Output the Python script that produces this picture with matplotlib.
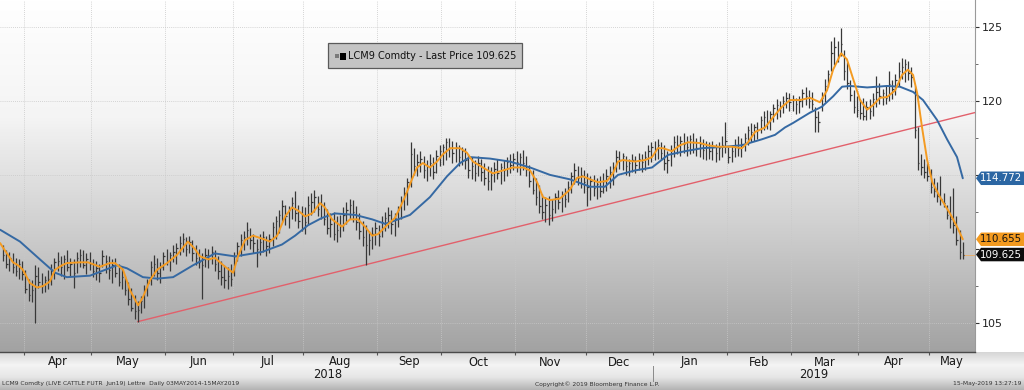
import numpy as np
import pandas as pd
import matplotlib
matplotlib.use("Agg")
import matplotlib.pyplot as plt
from matplotlib.colors import LinearSegmentedColormap
from matplotlib.patches import Polygon, Rectangle

# ---------------- data ----------------
dates = pd.bdate_range("2018-03-22", "2019-05-15")

high = [110.3,109.9,109.8,109.7,109.4,109.3,109.2,108.6,108.0,107.9,
        108.9,108.8,108.4,108.2,108.6,109.0,109.4,109.8,109.5,109.6,
        109.9,109.4,109.3,109.8,110.0,109.9,109.7,109.8,109.3,109.2,
        109.0,109.9,109.6,109.5,109.3,109.4,109.0,108.7,108.2,107.8,
        107.4,106.9,106.5,106.8,107.6,108.0,109.2,109.6,109.4,109.1,
        109.8,110.0,109.8,110.3,110.4,110.9,111.1,110.8,110.9,110.6,
        110.3,110.0,109.7,110.1,110.0,110.2,109.9,109.5,109.2,108.9,
        108.8,109.0,109.8,110.5,111.0,111.2,111.8,111.4,111.0,110.7,
        111.0,111.2,110.9,111.0,111.8,112.2,112.6,113.3,113.0,112.9,
        113.5,113.9,113.0,112.9,112.8,113.6,113.8,114.0,113.6,113.7,
        113.2,112.7,112.4,112.5,112.2,112.3,112.8,113.2,113.4,113.3,
        112.9,112.4,111.9,111.6,111.2,111.5,111.8,111.6,112.2,112.5,
        112.8,112.6,112.4,112.9,113.6,114.2,114.8,117.2,116.8,116.4,
        116.6,116.3,116.0,116.4,116.2,116.7,117.0,117.1,117.5,117.5,
        117.3,117.2,117.0,116.9,116.8,116.4,116.2,116.0,116.3,116.1,
        115.8,115.6,115.5,115.9,116.1,115.8,116.0,116.2,116.4,116.5,
        116.6,116.5,116.7,116.3,115.7,115.3,114.8,114.3,113.7,113.5,
        113.6,113.4,113.8,114.0,113.9,114.1,114.6,115.2,115.8,115.6,
        115.5,115.3,115.1,114.9,115.0,114.8,114.9,115.1,115.4,115.6,
        115.9,116.7,116.6,116.5,116.3,116.1,116.4,116.3,116.5,116.4,
        116.6,117.0,117.2,117.3,117.4,117.2,117.0,116.6,117.0,117.6,
        117.7,117.6,117.8,117.6,117.7,117.8,117.5,117.6,117.4,117.3,
        117.2,117.3,117.1,117.2,117.6,118.6,116.9,117.0,117.4,117.6,
        117.5,117.8,118.3,118.5,118.4,118.6,119.0,119.3,119.4,119.3,
        119.8,120.1,120.0,120.3,120.6,120.5,120.4,120.2,120.3,120.8,
        120.9,120.7,120.6,119.6,119.3,120.6,121.5,122.1,124.0,124.3,
        124.0,124.9,123.4,122.6,121.4,120.7,120.3,120.1,120.2,120.0,
        120.1,120.5,121.7,121.2,120.8,121.0,122.0,121.4,121.8,122.6,
        122.9,122.8,122.7,122.3,121.0,118.2,116.4,116.1,115.8,115.4,
        114.8,114.5,114.9,113.8,113.0,113.6,114.1,112.2,111.3,110.5]

low = [109.2,108.7,108.5,108.4,108.2,108.0,107.9,107.0,106.5,106.4,
       105.0,107.4,107.0,107.1,107.3,107.6,108.0,108.5,108.2,108.0,
       108.5,108.2,107.4,108.4,108.8,108.7,108.3,108.6,108.1,107.9,
       107.8,108.8,108.4,108.0,107.7,108.1,107.5,107.3,106.9,106.2,
       105.8,105.3,105.1,105.7,106.0,106.8,107.6,108.2,107.9,107.7,
       108.6,108.9,108.5,109.1,109.0,109.6,109.8,109.5,109.7,109.2,
       108.9,108.7,106.6,108.8,108.7,109.0,108.5,108.0,107.6,107.4,
       107.3,107.5,108.2,109.2,109.5,109.9,110.3,110.0,109.7,108.8,
       109.6,109.8,109.5,109.7,110.2,110.7,111.1,111.8,111.6,111.4,
       112.0,111.9,111.4,111.2,111.0,111.7,112.3,112.5,112.2,112.0,
       111.6,111.0,110.8,110.6,110.5,110.8,111.2,111.7,112.0,111.8,
       111.3,110.7,110.2,108.9,109.6,110.0,110.3,110.2,110.8,111.2,
       111.4,111.0,110.9,111.5,112.0,112.6,113.0,114.2,115.0,114.9,
       115.2,114.8,114.6,114.9,114.7,115.1,115.6,115.7,116.0,116.2,
       115.8,115.9,115.6,115.7,115.4,114.8,114.7,114.6,114.9,114.6,
       114.3,114.0,114.0,114.5,114.7,114.4,114.6,114.9,115.1,115.3,
       115.2,115.0,115.3,114.9,114.2,113.7,113.0,112.4,112.0,111.8,
       111.6,111.9,112.4,112.7,112.5,112.8,113.2,113.8,114.4,114.3,
       114.1,113.8,112.9,113.3,113.6,113.4,113.5,113.8,113.9,114.1,
       114.3,115.2,115.4,115.3,115.0,114.9,115.2,115.1,115.3,115.2,
       115.3,115.7,115.9,116.0,116.1,116.0,115.3,115.1,115.6,116.2,
       116.4,116.3,116.5,116.3,116.4,116.5,116.3,116.2,116.1,116.0,
       116.1,116.0,115.9,116.0,116.2,116.5,115.8,115.9,116.2,116.3,
       116.2,116.6,117.0,117.2,117.3,117.4,117.8,118.0,118.1,118.0,
       118.6,118.8,118.9,119.2,119.5,119.3,119.3,119.1,119.2,119.6,
       119.7,119.5,119.4,117.9,117.9,119.3,119.9,120.9,122.0,122.4,
       122.6,123.0,121.4,120.8,120.0,119.2,118.9,118.8,118.7,118.7,
       118.8,119.0,119.6,119.8,119.7,119.8,120.0,120.1,120.4,121.0,
       121.5,121.3,121.4,120.9,117.5,115.3,115.0,114.8,114.6,113.8,
       113.5,113.2,113.0,112.8,112.0,111.4,111.1,110.3,109.3,109.3]

close = [109.6,109.0,109.4,108.8,108.5,109.0,108.3,107.3,106.9,107.2,
         108.2,107.8,107.5,107.9,108.0,108.6,109.1,109.2,108.8,109.3,
         108.8,109.0,108.4,109.4,109.6,108.9,109.3,109.0,108.5,108.7,
         108.4,109.5,109.2,108.6,108.9,108.4,107.8,108.1,107.2,106.6,
         106.0,105.8,105.9,106.5,107.3,107.7,108.8,109.0,108.4,108.8,
         109.5,109.2,109.6,109.8,110.1,110.4,110.7,110.0,110.5,109.7,
         109.4,109.1,108.9,109.6,109.3,109.8,109.0,108.5,108.1,107.9,
         108.2,108.0,109.5,110.2,110.6,110.8,111.3,110.6,110.4,110.0,
         110.5,110.8,110.2,110.7,111.5,111.9,112.3,112.9,112.2,112.6,
         113.1,112.4,111.9,112.3,111.8,113.0,113.2,113.5,112.7,113.0,
         112.0,111.4,111.7,111.0,111.3,111.6,112.3,112.6,113.0,112.5,
         111.8,111.2,110.8,110.3,110.6,111.0,111.4,110.9,111.8,112.1,
         112.3,111.7,112.1,112.6,113.2,113.8,114.5,116.4,115.6,115.9,
         116.1,115.3,115.6,115.8,115.2,116.3,116.6,116.9,117.2,116.8,
         116.5,116.9,116.2,116.6,116.0,115.3,115.6,115.1,115.8,115.2,
         114.8,114.6,115.0,115.4,115.1,115.5,115.3,115.9,115.7,116.1,
         115.9,116.2,115.8,115.4,114.6,114.0,113.5,112.9,112.5,113.0,
         112.3,112.7,113.5,113.2,113.6,113.4,114.2,114.9,115.3,114.8,
         115.0,114.5,114.2,114.6,114.1,114.4,113.9,114.6,114.9,115.2,
         115.5,116.2,116.0,116.3,115.6,115.8,116.0,115.7,116.1,115.9,
         116.2,116.6,116.9,116.7,117.0,116.5,115.8,116.0,116.6,117.2,
         117.0,117.3,117.1,116.9,117.4,117.2,116.8,117.1,116.7,116.9,
         116.6,116.9,116.5,116.8,117.0,117.3,116.2,116.6,117.0,116.8,
         117.1,117.5,118.0,117.9,118.2,118.0,118.7,118.9,118.6,119.1,
         119.5,119.7,119.6,120.0,120.2,119.9,120.1,119.8,120.0,120.5,
         120.3,120.0,119.8,118.9,118.6,120.2,121.0,121.8,123.2,123.6,
         123.1,123.8,122.0,121.2,120.4,119.6,119.4,119.2,119.0,119.6,
         119.3,120.1,120.6,120.3,120.5,120.2,121.1,120.8,121.4,122.0,
         122.3,122.5,121.9,121.6,118.0,115.8,115.5,115.2,114.9,114.2,
         113.9,113.6,113.4,113.1,112.3,112.0,111.6,110.6,109.8,109.625]

# short moving average (orange): bar number -> price
orange_bar = [-0.9,0.6,3.1,4.7,6.2,8.4,10.6,12.5,14.6,16.2,18.4,19.9,24.0,26.5,30.2,33.3,34.9,
              37.4,39.6,42.1,43.6,45.8,48.0,51.1,54.2,57.6,59.8,61.4,63.9,66.0,69.2,71.7,73.2,
              75.4,77.9,80.7,83.2,85.4,87.9,90.0,91.9,94.1,96.3,98.8,100.3,102.5,105.6,108.1,
              110.6,112.8,115.0,116.8,119.6,122.1,123.7,125.2,127.4,129.0,130.8,133.0,135.2,
              137.1,139.3,142.4,144.5,146.4,149.5,152.6,155.8,158.9,162.0,164.2,166.4,168.2,
              170.4,173.5,176.6,178.8,180.7,182.9,185.4,188.2,190.0,191.6,193.1,196.9,200.0,
              202.2,204.0,205.6,208.4,210.9,213.4,217.1,219.6,222.7,227.1,230.2,232.1,234.3,
              237.4,240.5,242.7,245.2,248.3,251.4,254.5,256.7,258.6,261.1,262.9,264.8,267.0,
              269.2,271.0,273.2,275.4,277.9,280.1,281.9,283.5,284.8,286.3,287.9,289.5,291.9,
              295.0,297.2,299.0]
orange_val = [110.4,109.9,109.1,108.9,108.6,107.7,107.4,107.5,107.8,108.6,108.9,109.05,109.1,109.1,
              108.8,109.05,109.05,108.6,107.2,106.2,106.75,107.9,108.6,109.05,109.6,110.5,110.0,
              109.5,109.3,109.4,108.8,108.4,109.5,110.6,110.9,110.7,110.5,110.9,112.2,112.8,112.6,
              112.2,112.4,113.1,112.8,112.0,111.5,112.0,112.0,111.5,110.9,111.0,111.6,112.1,112.8,
              113.5,114.7,115.5,115.8,115.5,115.9,116.4,116.8,116.8,116.5,115.9,115.5,115.1,115.3,
              115.5,115.5,115.3,114.5,113.5,113.3,113.4,114.0,114.8,114.9,114.7,114.5,114.6,115.1,
              115.9,116.0,115.9,116.0,116.2,116.8,116.8,116.6,117.0,117.2,117.15,117.0,116.9,
              116.9,116.8,117.2,117.9,118.2,119.05,119.6,120.05,120.05,120.2,119.9,120.7,122.1,
              123.2,122.8,121.5,120.05,119.4,119.7,120.2,120.25,120.7,121.75,122.1,121.75,120.5,
              118.2,116.0,114.5,113.5,112.4,111.5,110.655]

# long moving average (blue)
blue_bar = [-0.9,5.3,11.5,16.2,19.9,27.1,35.5,38.6,43.6,48.0,53.0,59.2,60.5,66.0,72.3,80.7,86.9,
            91.0,95.0,99.4,103.4,109.7,115.0,119.0,120.6,126.8,133.0,138.3,142.4,145.5,151.7,
            157.9,164.2,170.4,176.6,182.9,187.5,191.6,196.9,202.2,207.2,212.5,217.8,224.9,230.2,
            236.4,240.5,243.6,246.1,251.4,255.1,258.6,261.4,263.9,269.2,275.4,279.4,283.5,286.6,
            291.0,294.1,297.2,299.0]
blue_val = [111.3,110.5,109.3,108.4,108.1,108.2,108.9,108.7,108.1,108.0,108.1,108.9,109.05,109.7,
            109.5,109.8,110.3,110.9,111.6,112.1,112.4,112.3,112.0,111.7,111.8,112.3,113.5,114.9,
            115.8,116.2,116.1,115.9,115.5,115.0,114.7,114.2,114.2,115.0,115.3,115.5,116.35,116.6,
            116.8,116.9,117.0,117.4,117.7,118.2,118.5,119.2,119.6,120.3,120.95,121.0,120.9,121.0,
            120.95,120.6,120.05,118.7,117.4,116.2,114.772]

# trend line anchor points (bar number, price)
trend_bar = [42, 299]
trend_val = [105.1, 119.0]

price_ticks = [105, 110, 115, 120, 125]
labelled_ticks = [105, 120, 125]   # 110 and 115 are hidden under the value tags
month_names = ["Jan", "Feb", "Mar", "Apr", "May", "Jun", "Jul", "Aug", "Sep", "Oct", "Nov", "Dec"]
legend_label = "LCM9 Comdty - Last Price 109.625"
footer_left = "LCM9 Comdty (LIVE CATTLE FUTR  Jun19) Lettre  Daily 03MAY2014-15MAY2019"
footer_mid = "Copyright\u00a9 2019 Bloomberg Finance L.P."
footer_right = "15-May-2019 13:27:19"

# ---------------- figure ----------------
W, H = 1024, 390
fig = plt.figure(figsize=(W / 100, H / 100), dpi=100)
fig.patch.set_facecolor("white")
FONT = "DejaVu Sans"

# bottom strip gradient
bstrip = fig.add_axes([0, 0, 1, 38 / H])
bstrip.set_axis_off()
cm_strip = LinearSegmentedColormap.from_list("s", ["#b3b3b3", "#e6e6e6", "#f4f4f4", "#d6d6d6"])
bstrip.imshow(np.linspace(0, 1, 128).reshape(-1, 1), cmap=cm_strip, aspect="auto",
              extent=[0, 1, 0, 1], origin="lower")
bstrip.set_xlim(0, 1)
bstrip.set_ylim(0, 1)

ax = fig.add_axes([0, 38 / H, 975 / W, 352 / H])
n = len(close)
idx = np.arange(n)
xmin, xmax = -0.93, 302.8
ymin, ymax = 103.05, 126.8
ax.set_xlim(xmin, xmax)
ax.set_ylim(ymin, ymax)

cm_plot = LinearSegmentedColormap.from_list("p", ["#a2a2a2", "#cdcdcd", "#f4f4f4", "#ffffff"])
ax.imshow(np.linspace(0, 1, 256).reshape(-1, 1), cmap=cm_plot, aspect="auto",
          extent=[xmin, xmax, ymin, ymax], origin="lower", zorder=0)

# month boundaries
mb = [k - 0.5 for k in range(1, n) if dates[k].month != dates[k - 1].month]
starts = [xmin] + mb
ends = mb + [xmax]
month_of = [dates[0]] + [dates[k] for k in range(1, n) if dates[k].month != dates[k - 1].month]

# grid
for b in mb:
    ax.axvline(b, color="#c8c8c8", lw=0.6, ls=(0, (1, 1.5)), zorder=1)
for yv in price_ticks:
    ax.axhline(yv, color="#c8c8c8", lw=0.6, ls=(0, (1, 1.5)), zorder=1)

# trend line extended to right edge
slope = (trend_val[1] - trend_val[0]) / (trend_bar[1] - trend_bar[0])
ax.plot([trend_bar[0], xmax], [trend_val[0], trend_val[0] + slope * (xmax - trend_bar[0])],
        color="#e2606b", lw=1.0, zorder=2)

# OHLC bars
ax.vlines(idx, low, high, color="#383838", lw=0.9, zorder=3)
ax.hlines(close, idx, idx + 0.45, color="#383838", lw=0.9, zorder=3)

# moving averages
ax.plot(blue_bar, blue_val, color="#3569a3", lw=1.4, zorder=4, solid_capstyle="round")
ax.plot(orange_bar, orange_val, color="#f49b22", lw=1.4, zorder=5, solid_capstyle="round")
ax.plot([n - 1, xmax], [close[-1], close[-1]], color="#e8b070", lw=0.7, zorder=2)

# axes style
for s in ["top", "left"]:
    ax.spines[s].set_visible(False)
ax.spines["right"].set_color("#9a9a9a")
ax.spines["right"].set_linewidth(0.8)
ax.spines["bottom"].set_color("#4a4a4a")
ax.spines["bottom"].set_linewidth(1.0)
ax.yaxis.tick_right()
ax.set_yticks(price_ticks)
ax.set_yticklabels([str(t) if t in labelled_ticks else "" for t in price_ticks])
ax.set_yticks(np.arange(105, 126, 2.5), minor=True)
ax.tick_params(axis="y", which="major", length=3, width=0.8, color="#333333",
               labelsize=8, labelcolor="#222222", pad=2)
ax.tick_params(axis="y", which="minor", length=2, width=0.6, color="#555555")
for lab in ax.get_yticklabels():
    lab.set_fontfamily(FONT)
ax.set_xticks(mb)
ax.set_xticklabels([])
ax.tick_params(axis="x", length=2.5, width=0.8, color="#555555", direction="out")

# month & year labels
def xfig(v):
    return ax.transData.transform((v, 0))[0] / W

def yfig(v):
    return ax.transData.transform((0, v))[1] / H

for s, e, d in zip(starts, ends, month_of):
    if (xfig(e) - xfig(s)) * W < 35:
        continue
    fig.text((xfig(s) + xfig(e)) / 2, 1 - 362 / H, month_names[d.month - 1],
             ha="center", va="center", fontsize=8.3, color="#1a1a1a", family=FONT)
years = sorted(set(d.year for d in dates))
for yr in years:
    ks = [k for k in range(n) if dates[k].year == yr]
    a = max(ks[0] - 0.5, xmin)
    b = min(ks[-1] + 0.5, xmax) if yr != years[-1] else xmax
    fig.text((xfig(a) + xfig(b)) / 2, 1 - 374 / H, str(yr), ha="center", va="center",
             fontsize=8.3, color="#1a1a1a", family=FONT)
    if yr != years[0]:
        xs = xfig(ks[0] - 0.5)
        fig.add_artist(plt.Line2D([xs, xs], [1 - 366 / H, 1 - 381 / H], color="#8a8a8a",
                                  lw=0.7, transform=fig.transFigure))

# footer
fig.text(2 / W, 1 - 384 / H, footer_left, fontsize=4.3, color="#333333", va="center", family=FONT)
fig.text(535 / W, 1 - 384 / H, footer_mid, fontsize=4.3, color="#333333", va="center", family=FONT)
fig.text(1021 / W, 1 - 384 / H, footer_right, fontsize=4.3, color="#333333", va="center",
         ha="right", family=FONT)

# legend box
fig.add_artist(Rectangle((328 / W, 1 - 68 / H), 194 / W, 25 / H, transform=fig.transFigure,
                         facecolor="#c4c4c4", edgecolor="#5a5a5a", lw=0.9, zorder=8))
fig.add_artist(Rectangle((335 / W, 1 - 58 / H), 4 / W, 4 / H, transform=fig.transFigure,
                         facecolor="#7a7a7a", edgecolor="none", zorder=9))
fig.add_artist(Rectangle((340 / W, 1 - 59.5 / H), 6 / W, 6 / H, transform=fig.transFigure,
                         facecolor="#000000", edgecolor="none", zorder=9))
fig.text(348 / W, 1 - 56 / H, legend_label, fontsize=7.0, color="#111111", va="center",
         family=FONT, zorder=10)

# value tags on right axis
def tag(value, face, tc):
    yp = yfig(value) * H
    x0, tip, w, h = 976, 5, 48, 13.5
    pts = [(x0, yp), (x0 + tip, yp + h / 2), (x0 + w, yp + h / 2), (x0 + w, yp - h / 2),
           (x0 + tip, yp - h / 2)]
    fig.add_artist(Polygon([(px / W, py / H) for px, py in pts], closed=True,
                           transform=fig.transFigure, facecolor=face, edgecolor="none", zorder=12))
    fig.text(979.5 / W, yp / H, f"{value:.3f}", color=tc, fontsize=7.4,
             va="center", ha="left", family=FONT, zorder=13)

tag(blue_val[-1], "#2b66a3", "white")
tag(orange_val[-1], "#f39a1f", "#111111")
tag(close[-1], "#0c0c0c", "white")

fig.savefig("out.png", dpi=100)
